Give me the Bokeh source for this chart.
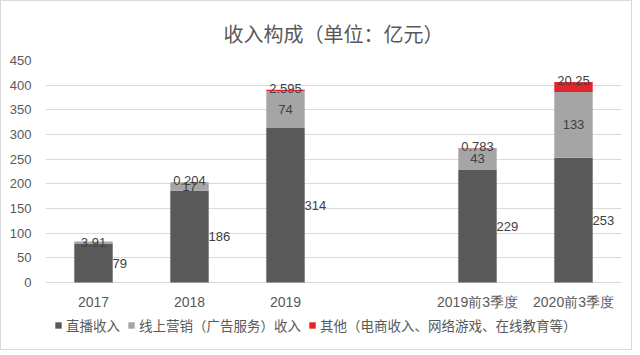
from bokeh.plotting import figure
from bokeh.models import FactorRange, Range1d, FixedTicker, Legend, LegendItem, ColumnDataSource
from bokeh.core.properties import value
from bokeh.embed import file_html
from bokeh.resources import INLINE

categories = ["2017", "2018", "2019", "2019前3季度", "2020前3季度"]
factors = ["2017", "2018", "2019", " ", "2019前3季度", "2020前3季度"]
live = [79, 186, 314, 229, 253]
ads = [3.91, 17, 74, 43, 133]
other = [0, 0.204, 2.595, 0.783, 20.25]
y_ticks = [0, 50, 100, 150, 200, 250, 300, 350, 400, 450]
series_names = ["直播收入", "线上营销（广告服务）收入", "其他（电商收入、网络游戏、在线教育等）"]
colors = ["#595959", "#A5A5A5", "#E3252A"]

FONT = "Noto Sans CJK SC"
NUMFONT = "Liberation Sans"
TXT = "#595959"

src = ColumnDataSource(dict(
    cat=categories, live=live, ads=ads, other=other,
    live_mid=[v / 2 for v in live],
    ads_mid=[a + b / 2 for a, b in zip(live, ads)],
    top=[a + b + c for a, b, c in zip(live, ads, other)],
    zero=[0] * len(categories),
    live_lbl=[str(v) for v in live],
    ads_lbl=[str(v) for v in ads],
    other_lbl=[str(v) if v else "" for v in other],
))

# frame extends below the zero line so the legend can sit inside it
p = figure(x_range=FactorRange(factors=factors, range_padding=0),
           y_range=Range1d(-129.7, 450),
           width=632, height=350, output_backend="svg", toolbar_location=None,
           min_border_left=44, min_border_right=12, min_border_top=59, min_border_bottom=5,
           title="收入构成（单位：亿元）")
p.title.align = "center"
p.title.text_font = FONT
p.title.text_font_size = "20px"
p.title.text_font_style = "normal"
p.title.text_color = TXT
p.title.standoff = 26
p.outline_line_color = None
p.styles = {"border": "1px solid #D9D9D9"}

rs = p.vbar_stack(["live", "ads", "other"], x="cat", width=0.4, source=src,
                  color=colors, line_color=None)

p.text(x="cat", y="live_mid", text="live_lbl", source=src, x_offset=19,
       text_align="left", text_baseline="middle", text_font=value(NUMFONT),
       text_font_size="13px", text_color="#404040")
p.text(x="cat", y="ads_mid", text="ads_lbl", source=src,
       text_align="center", text_baseline="middle", text_font=value(NUMFONT),
       text_font_size="13px", text_color="#404040")
p.text(x="cat", y="top", text="other_lbl", source=src, y_offset=3,
       text_align="center", text_baseline="bottom", text_font=value(NUMFONT),
       text_font_size="13px", text_color="#404040")
# category labels under the zero line
p.text(x="cat", y="zero", text="cat", source=src, y_offset=19,
       text_align="center", text_baseline="middle", text_font=value(NUMFONT),
       text_font_size="14px", text_color=TXT)

p.xaxis.visible = False
p.yaxis.ticker = FixedTicker(ticks=y_ticks)
p.yaxis.axis_line_color = None
p.yaxis.major_tick_line_color = None
p.yaxis.minor_tick_line_color = None
p.yaxis.major_label_standoff = 8
p.yaxis.major_label_text_font = NUMFONT
p.yaxis.major_label_text_font_size = "13px"
p.yaxis.major_label_text_color = TXT

p.xgrid.grid_line_color = None
p.ygrid.ticker = FixedTicker(ticks=y_ticks)
p.ygrid.grid_line_color = "#D9D9D9"

legend = Legend(items=[LegendItem(label=n, renderers=[r]) for n, r in zip(series_names, rs)],
                orientation="horizontal", location=(9, 11),
                label_text_font=FONT, label_text_font_size="13.5px", label_text_color=TXT,
                glyph_width=8, glyph_height=8, label_standoff=4, spacing=7,
                padding=0, margin=0, border_line_color=None, background_fill_alpha=0)
p.add_layout(legend, "center")

open("out.html", "w").write(file_html(p, INLINE))
